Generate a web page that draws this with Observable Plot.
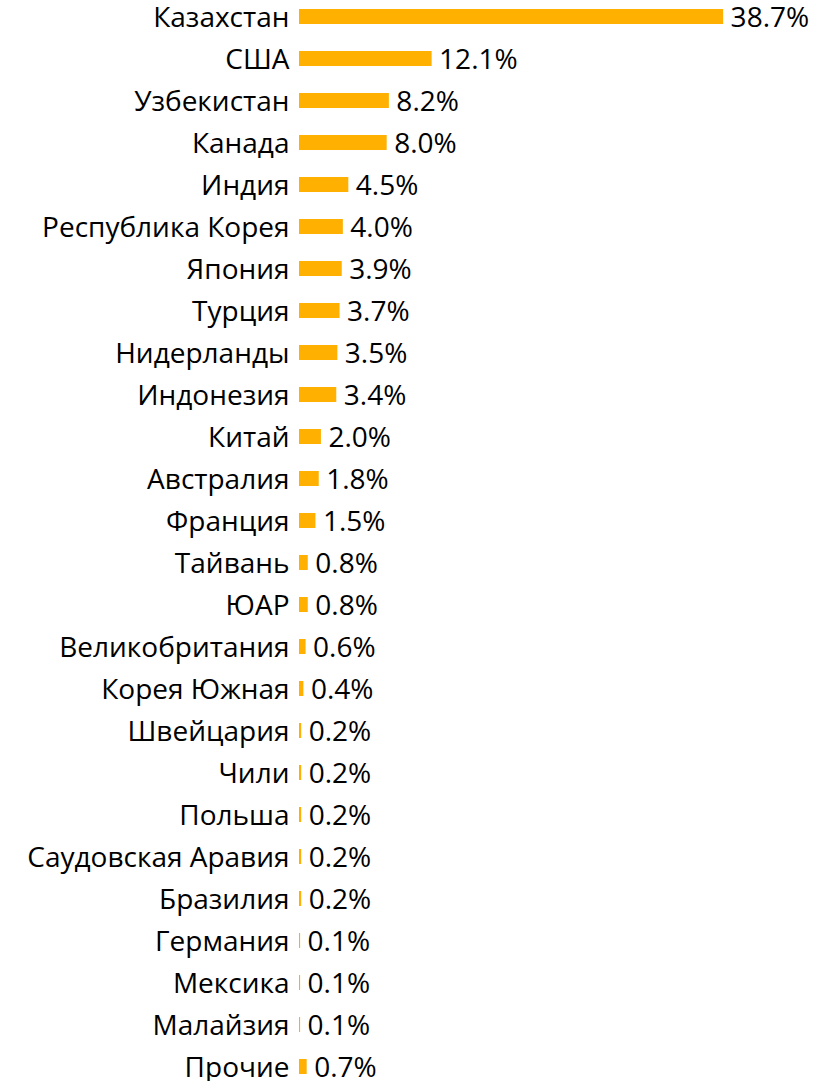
<!DOCTYPE html>
<html>
<head>
<meta charset="utf-8">
<script src="https://cdn.jsdelivr.net/npm/d3@7"></script>
<script src="https://cdn.jsdelivr.net/npm/@observablehq/plot@0.6"></script>
<style>
  html, body { margin: 0; padding: 0; background: #fff; }
  #chart svg { display: block; }
</style>
</head>
<body>
<div id="chart"></div>
<script>
const countries = ["Казахстан","США","Узбекистан","Канада","Индия","Республика Корея","Япония","Турция","Нидерланды","Индонезия","Китай","Австралия","Франция","Тайвань","ЮАР","Великобритания","Корея Южная","Швейцария","Чили","Польша","Саудовская Аравия","Бразилия","Германия","Мексика","Малайзия","Прочие"];
const shares = [38.7,12.1,8.2,8.0,4.5,4.0,3.9,3.7,3.5,3.4,2.0,1.8,1.5,0.8,0.8,0.6,0.4,0.2,0.2,0.2,0.2,0.2,0.1,0.1,0.1,0.7];

const data = countries.map((c, i) => ({country: c, share: shares[i]}));
const fmt = v => v.toFixed(1) + "%";

const chart = Plot.plot({
  width: 836,
  height: 1081,
  marginLeft: 299,
  marginRight: 0,
  marginTop: 9,
  marginBottom: 7,
  style: {fontFamily: "'Open Sans', sans-serif", fontSize: "28px", color: "#000", background: "#fff"},
  x: {domain: [0, 49], axis: null},
  y: {domain: countries, paddingInner: 0.643, paddingOuter: 0, label: null, tickSize: 0, tickPadding: 10},
  marks: [
    Plot.barX(data, {x: "share", y: "country", fill: "#FFB000"}),
    Plot.text(data, {x: "share", y: "country", text: d => fmt(d.share), textAnchor: "start", dx: 7, dy: 1, fontSize: 28, fill: "#000"}),
    Plot.axisY({tickSize: 0, tickPadding: 10, fontSize: 28, dy: 1, label: null})
  ]
});
document.getElementById("chart").appendChild(chart);
</script>
</body>
</html>
